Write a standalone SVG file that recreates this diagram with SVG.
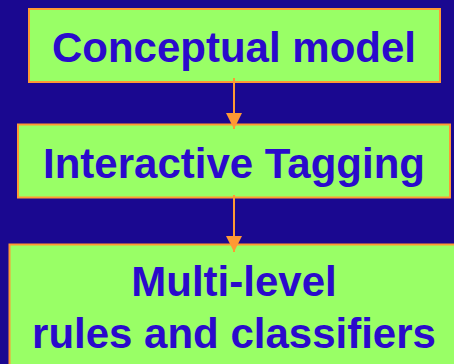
<svg xmlns="http://www.w3.org/2000/svg" width="454" height="364" viewBox="0 0 454 364">
  <style>
    .box { fill: #99ff66; stroke: #ff9933; stroke-width: 2; }
    .label { font-family: "Liberation Sans", Arial, sans-serif; font-weight: bold; font-size: 42px; fill: #2a0acc; text-anchor: middle; }
    .link { stroke: #ff9933; stroke-width: 2; fill: none; }
  </style>
  <defs>
    <marker id="arrow" markerWidth="16" markerHeight="16" refX="16" refY="8" orient="auto" markerUnits="userSpaceOnUse">
      <path d="M0,0 L16,8 L0,16 Z" fill="#ff9933"/>
    </marker>
  </defs>
  <rect width="454" height="364" fill="#1a0890"/>

  <g id="node-conceptual-model">
    <rect class="box" x="29" y="9" width="411" height="73"/>
    <text class="label" x="234" y="62">Conceptual model</text>
  </g>

  <g id="node-interactive-tagging">
    <rect class="box" x="18" y="124.5" width="432" height="73"/>
    <text class="label" x="234" y="178">Interactive Tagging</text>
  </g>

  <g id="node-rules-classifiers">
    <rect class="box" x="9.5" y="244.5" width="460" height="130"/>
    <text class="label" x="234" y="296">Multi-level</text>
    <text class="label" x="234" y="348">rules and classifiers</text>
  </g>

  <g id="connectors">
    <line class="link" x1="234" y1="78" x2="234" y2="129" marker-end="url(#arrow)"/>
    <line class="link" x1="234" y1="195" x2="234" y2="252" marker-end="url(#arrow)"/>
  </g>
</svg>
